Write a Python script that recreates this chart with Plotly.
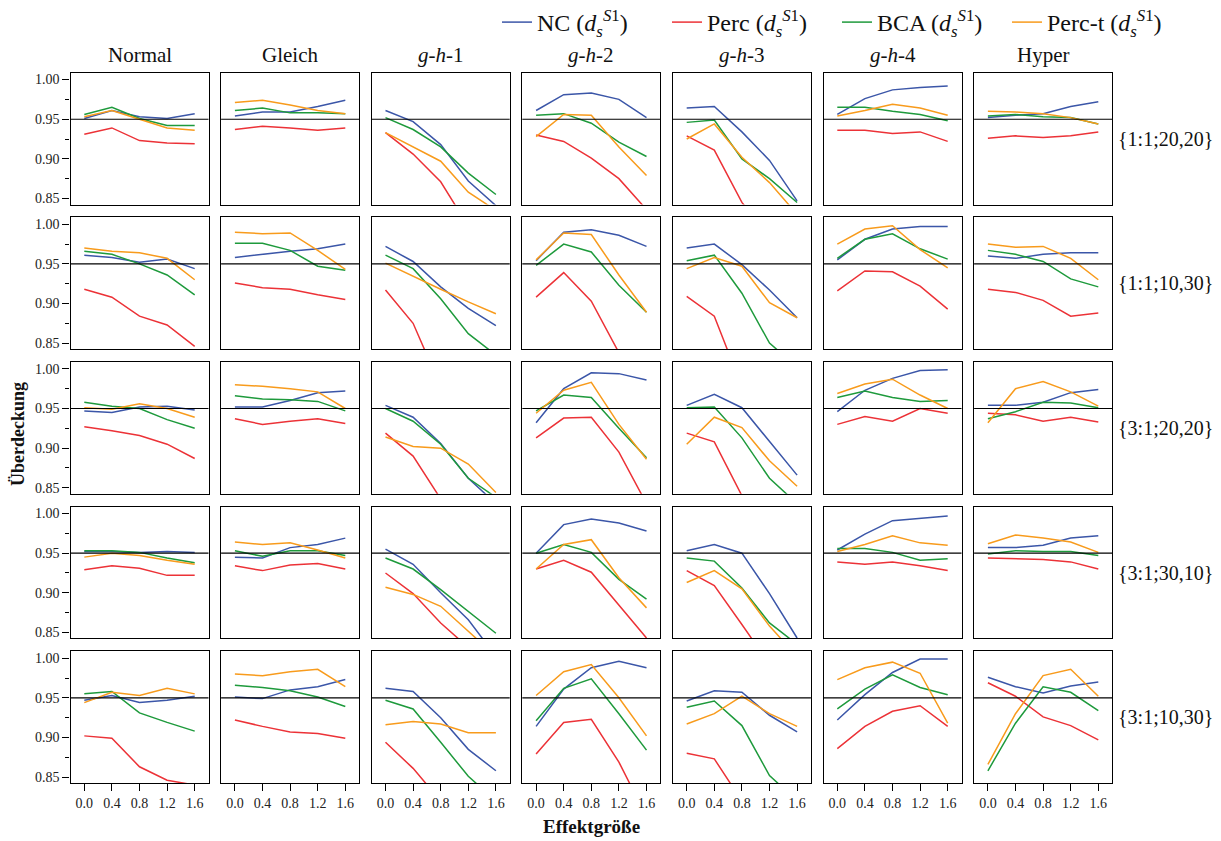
import plotly.graph_objects as go

# ---------------------------------------------------------------------------
# Coverage (Überdeckung) of four bootstrap CIs for d_s^{S1}
# columns: distributions, rows: design conditions, x: effect size
# ---------------------------------------------------------------------------
effekt = [0.0, 0.4, 0.8, 1.2, 1.6]

verteilungen = ["Normal", "Gleich", "<i>g</i>-<i>h</i>-1", "<i>g</i>-<i>h</i>-2",
                "<i>g</i>-<i>h</i>-3", "<i>g</i>-<i>h</i>-4", "Hyper"]
bedingungen = ["{1:1;20,20}", "{1:1;10,30}", "{3:1;20,20}", "{3:1;30,10}", "{3:1;10,30}"]

y_tickvals = [0.85, 0.90, 0.95, 1.00]
y_ticktext = ["0.85", "0.90", "0.95", "1.00"]
x_ticktext = ["0.0", "0.4", "0.8", "1.2", "1.6"]
nominal = 0.95

# each list: one row of 7 panels (Normal ... Hyper), 5 effect sizes per panel
# --- {1:1;20,20}
nc_r1 = [[0.951, 0.961, 0.953, 0.951, 0.957], [0.954, 0.959, 0.959, 0.966, 0.974],
         [0.961, 0.947, 0.918, 0.872, 0.841], [0.961, 0.981, 0.983, 0.975, 0.952],
         [0.964, 0.966, 0.934, 0.898, 0.847], [0.956, 0.976, 0.987, 0.990, 0.992],
         [0.952, 0.955, 0.957, 0.966, 0.972]]
perc_r1 = [[0.931, 0.939, 0.923, 0.920, 0.919], [0.937, 0.941, 0.939, 0.936, 0.939],
           [0.933, 0.906, 0.871, 0.815, 0.780], [0.930, 0.922, 0.901, 0.875, 0.836],
           [0.929, 0.911, 0.845, 0.800, 0.760], [0.936, 0.936, 0.932, 0.934, 0.922],
           [0.926, 0.929, 0.927, 0.929, 0.934]]
bca_r1 = [[0.956, 0.965, 0.951, 0.942, 0.942], [0.961, 0.964, 0.958, 0.958, 0.957],
          [0.952, 0.937, 0.915, 0.882, 0.855], [0.955, 0.957, 0.945, 0.921, 0.903],
          [0.946, 0.949, 0.900, 0.875, 0.845], [0.965, 0.965, 0.960, 0.956, 0.948],
          [0.954, 0.956, 0.953, 0.952, 0.944]]
perct_r1 = [[0.953, 0.961, 0.950, 0.939, 0.936], [0.971, 0.974, 0.968, 0.961, 0.957],
            [0.933, 0.915, 0.897, 0.858, 0.835], [0.928, 0.956, 0.955, 0.915, 0.879],
            [0.925, 0.944, 0.902, 0.870, 0.830], [0.954, 0.961, 0.969, 0.964, 0.955],
            [0.960, 0.959, 0.957, 0.952, 0.944]]

# --- {1:1;10,30}
nc_r2 = [[0.961, 0.958, 0.952, 0.956, 0.944], [0.958, 0.962, 0.966, 0.969, 0.975],
         [0.972, 0.953, 0.921, 0.894, 0.872], [0.954, 0.990, 0.993, 0.986, 0.972],
         [0.970, 0.975, 0.949, 0.917, 0.882], [0.955, 0.981, 0.994, 0.997, 0.997],
         [0.960, 0.957, 0.962, 0.964, 0.964]]
perc_r2 = [[0.918, 0.908, 0.884, 0.873, 0.846], [0.926, 0.920, 0.918, 0.911, 0.905],
           [0.917, 0.875, 0.795, 0.760, 0.730], [0.908, 0.939, 0.903, 0.838, 0.800],
           [0.909, 0.884, 0.795, 0.760, 0.730], [0.916, 0.941, 0.940, 0.922, 0.893],
           [0.918, 0.914, 0.904, 0.884, 0.888]]
bca_r2 = [[0.966, 0.962, 0.950, 0.936, 0.911], [0.976, 0.976, 0.967, 0.947, 0.942],
          [0.961, 0.944, 0.906, 0.862, 0.835], [0.948, 0.975, 0.965, 0.923, 0.889],
          [0.954, 0.961, 0.913, 0.850, 0.820], [0.957, 0.981, 0.988, 0.969, 0.956],
          [0.967, 0.962, 0.953, 0.931, 0.921]]
perct_r2 = [[0.970, 0.966, 0.964, 0.957, 0.930], [0.990, 0.988, 0.989, 0.967, 0.943],
            [0.951, 0.934, 0.918, 0.902, 0.887], [0.955, 0.989, 0.987, 0.936, 0.889],
            [0.944, 0.958, 0.947, 0.901, 0.882], [0.975, 0.994, 0.998, 0.968, 0.945],
            [0.975, 0.971, 0.972, 0.957, 0.930]]

# --- {3:1;20,20}
nc_r3 = [[0.947, 0.945, 0.952, 0.953, 0.948], [0.952, 0.952, 0.960, 0.970, 0.972],
         [0.954, 0.939, 0.906, 0.862, 0.830], [0.932, 0.975, 0.995, 0.994, 0.986],
         [0.954, 0.968, 0.951, 0.908, 0.866], [0.946, 0.973, 0.988, 0.998, 0.999],
         [0.954, 0.954, 0.958, 0.970, 0.974]]
perc_r3 = [[0.927, 0.922, 0.916, 0.905, 0.887], [0.937, 0.930, 0.934, 0.937, 0.931],
           [0.919, 0.890, 0.836, 0.800, 0.770], [0.913, 0.938, 0.939, 0.895, 0.830],
           [0.919, 0.908, 0.840, 0.800, 0.760], [0.930, 0.940, 0.934, 0.950, 0.944],
           [0.944, 0.942, 0.934, 0.939, 0.933]]
bca_r3 = [[0.958, 0.953, 0.950, 0.936, 0.925], [0.966, 0.962, 0.961, 0.959, 0.947],
          [0.950, 0.934, 0.905, 0.862, 0.838], [0.947, 0.967, 0.964, 0.925, 0.888],
          [0.951, 0.952, 0.913, 0.862, 0.830], [0.964, 0.972, 0.964, 0.959, 0.960],
          [0.937, 0.946, 0.958, 0.957, 0.951]]
perct_r3 = [[0.951, 0.949, 0.956, 0.950, 0.939], [0.980, 0.978, 0.975, 0.971, 0.950],
            [0.914, 0.902, 0.900, 0.880, 0.844], [0.944, 0.973, 0.983, 0.930, 0.886],
            [0.905, 0.939, 0.926, 0.884, 0.852], [0.969, 0.981, 0.987, 0.967, 0.950],
            [0.932, 0.975, 0.984, 0.971, 0.953]]

# --- {3:1;30,10}
nc_r4 = [[0.952, 0.952, 0.951, 0.952, 0.951], [0.945, 0.944, 0.957, 0.961, 0.969],
         [0.955, 0.936, 0.900, 0.866, 0.820], [0.950, 0.986, 0.993, 0.988, 0.978],
         [0.953, 0.961, 0.950, 0.899, 0.843], [0.954, 0.974, 0.991, 0.994, 0.997],
         [0.957, 0.957, 0.960, 0.969, 0.972]]
perc_r4 = [[0.929, 0.934, 0.931, 0.922, 0.922], [0.934, 0.928, 0.935, 0.937, 0.930],
           [0.925, 0.899, 0.862, 0.831, 0.800], [0.930, 0.941, 0.926, 0.885, 0.843],
           [0.928, 0.909, 0.860, 0.810, 0.770], [0.939, 0.936, 0.939, 0.934, 0.928],
           [0.944, 0.943, 0.942, 0.939, 0.930]]
bca_r4 = [[0.953, 0.953, 0.951, 0.944, 0.938], [0.953, 0.946, 0.953, 0.953, 0.947],
          [0.944, 0.930, 0.904, 0.876, 0.849], [0.950, 0.961, 0.951, 0.917, 0.892],
          [0.944, 0.940, 0.906, 0.862, 0.835], [0.956, 0.956, 0.951, 0.941, 0.943],
          [0.949, 0.953, 0.952, 0.952, 0.947]]
perct_r4 = [[0.945, 0.950, 0.947, 0.941, 0.936], [0.964, 0.961, 0.963, 0.954, 0.944],
            [0.907, 0.898, 0.883, 0.850, 0.820], [0.930, 0.961, 0.967, 0.919, 0.881],
            [0.913, 0.928, 0.905, 0.858, 0.820], [0.952, 0.961, 0.972, 0.963, 0.960],
            [0.962, 0.973, 0.969, 0.964, 0.951]]

# --- {3:1;10,30}
nc_r5 = [[0.947, 0.953, 0.944, 0.947, 0.952], [0.951, 0.949, 0.960, 0.964, 0.973],
         [0.962, 0.958, 0.925, 0.885, 0.858], [0.914, 0.961, 0.988, 0.996, 0.988],
         [0.946, 0.959, 0.957, 0.928, 0.907], [0.922, 0.954, 0.982, 0.999, 0.999],
         [0.976, 0.964, 0.956, 0.965, 0.970]]
perc_r5 = [[0.902, 0.899, 0.863, 0.846, 0.840], [0.922, 0.914, 0.907, 0.905, 0.899],
           [0.894, 0.861, 0.820, 0.790, 0.760], [0.879, 0.919, 0.923, 0.869, 0.800],
           [0.880, 0.873, 0.820, 0.790, 0.760], [0.886, 0.914, 0.933, 0.940, 0.914],
           [0.969, 0.952, 0.926, 0.915, 0.897]]
bca_r5 = [[0.955, 0.958, 0.931, 0.919, 0.908], [0.966, 0.963, 0.959, 0.951, 0.939],
          [0.947, 0.936, 0.894, 0.851, 0.820], [0.921, 0.962, 0.974, 0.930, 0.884],
          [0.938, 0.946, 0.915, 0.852, 0.820], [0.936, 0.961, 0.979, 0.963, 0.954],
          [0.858, 0.918, 0.964, 0.957, 0.934]]
perct_r5 = [[0.944, 0.957, 0.953, 0.962, 0.955], [0.980, 0.978, 0.983, 0.986, 0.964],
            [0.916, 0.920, 0.917, 0.906, 0.906], [0.953, 0.983, 0.992, 0.950, 0.902],
            [0.917, 0.930, 0.952, 0.930, 0.914], [0.973, 0.988, 0.995, 0.981, 0.918],
            [0.866, 0.930, 0.978, 0.986, 0.952]]

methoden = [
    ("NC", "#3b56a8", [nc_r1, nc_r2, nc_r3, nc_r4, nc_r5]),
    ("Perc", "#ec3237", [perc_r1, perc_r2, perc_r3, perc_r4, perc_r5]),
    ("BCA", "#1e9a3c", [bca_r1, bca_r2, bca_r3, bca_r4, bca_r5]),
    ("Perc-t", "#f89b1c", [perct_r1, perct_r2, perct_r3, perct_r4, perct_r5]),
]

# ---------------------------------------------------------------------------
W, H = 1221, 841
SERIF = "Liberation Serif"
n_rows, n_cols = 5, 7
col_left0, col_pitch, col_w = 70.5, 150.6, 138.0
row_top0, row_pitch, row_h = 73.0, 145.0, 132.0
x_range = [-0.2, 1.8]
y_range = [0.8424, 1.0085]

fig = go.Figure()
layout_axes = {}
shapes = []

for r in range(n_rows):
    for c in range(n_cols):
        k = r * n_cols + c + 1
        xa = "x" if k == 1 else f"x{k}"
        ya = "y" if k == 1 else f"y{k}"
        x0 = (col_left0 + c * col_pitch) / W
        x1 = (col_left0 + c * col_pitch + col_w) / W
        y1 = 1 - (row_top0 + r * row_pitch) / H
        y0 = 1 - (row_top0 + r * row_pitch + row_h) / H

        bottom = r == n_rows - 1
        left = c == 0
        layout_axes["xaxis" if k == 1 else f"xaxis{k}"] = dict(
            domain=[x0, x1], anchor=ya, range=x_range, showgrid=False, zeroline=False,
            showline=True, mirror=True, linecolor="black", linewidth=1.2,
            tickvals=effekt if bottom else [], ticktext=x_ticktext if bottom else [],
            ticks="outside" if bottom else "", ticklen=7, tickwidth=1.2, tickcolor="black",
            showticklabels=bottom, tickfont=dict(family=SERIF, size=14, color="#222"),
        )
        layout_axes["yaxis" if k == 1 else f"yaxis{k}"] = dict(
            domain=[y0, y1], anchor=xa, range=y_range, showgrid=False, zeroline=False,
            showline=True, mirror=True, linecolor="black", linewidth=1.2,
            tickvals=y_tickvals if left else [], ticktext=y_ticktext if left else [],
            ticks="outside" if left else "", ticklen=7, tickwidth=1.2, tickcolor="black",
            showticklabels=left, tickfont=dict(family=SERIF, size=14, color="#222"),
            minor=dict(tickvals=[0.875, 0.925, 0.975], ticks="outside", ticklen=4,
                       tickwidth=1.2, tickcolor="black") if left else dict(ticks=""),
        )

        # nominal coverage reference line
        shapes.append(dict(type="line", xref=f"{xa} domain", yref=ya, x0=0, x1=1,
                           y0=nominal, y1=nominal, line=dict(color="black", width=1.1)))

        for name, color, rows in methoden:
            fig.add_trace(go.Scatter(
                x=effekt, y=rows[r][c], mode="lines", xaxis=xa, yaxis=ya,
                line=dict(color=color, width=1.5),
                name=f"{name} (<i>d</i><sub><i>s</i></sub><sup><i>S</i>1</sup>)",
                legendgroup=name, showlegend=(r == 0 and c == 0),
            ))

annotations = []
for c, titel in enumerate(verteilungen):
    xc = (col_left0 + c * col_pitch + col_w / 2) / W
    annotations.append(dict(text=titel, x=xc, y=1 - 55 / H, xref="paper", yref="paper",
                            xanchor="center", yanchor="middle", showarrow=False,
                            font=dict(family=SERIF, size=21, color="#111")))
for r, lab in enumerate(bedingungen):
    yc = 1 - (row_top0 + r * row_pitch + row_h / 2) / H
    annotations.append(dict(text=lab, x=(col_left0 + 6 * col_pitch + col_w + 4) / W, y=yc,
                            xref="paper", yref="paper", xanchor="left", yanchor="middle",
                            showarrow=False, font=dict(family=SERIF, size=20, color="#111")))
annotations.append(dict(text="<b>Überdeckung</b>", x=18 / W, y=1 - 435 / H, xref="paper",
                        yref="paper", xanchor="center", yanchor="middle", textangle=-90,
                        showarrow=False, font=dict(family=SERIF, size=18, color="#111")))
annotations.append(dict(text="<b>Effektgröße</b>", x=591 / W, y=1 - 828 / H, xref="paper",
                        yref="paper", xanchor="center", yanchor="middle", showarrow=False,
                        font=dict(family=SERIF, size=19, color="#111")))

fig.update_layout(
    width=W, height=H, margin=dict(l=0, r=0, t=0, b=0),
    paper_bgcolor="white", plot_bgcolor="white",
    font=dict(family=SERIF, color="#111"),
    showlegend=True,
    legend=dict(orientation="h", x=497 / W, xanchor="left", y=1.0, yanchor="top",
                font=dict(family=SERIF, size=24, color="#111"), itemwidth=30,
                entrywidth=125, bgcolor="rgba(0,0,0,0)", tracegroupgap=0),
    annotations=annotations, shapes=shapes,
    **layout_axes,
)

fig.write_html("out.html")
